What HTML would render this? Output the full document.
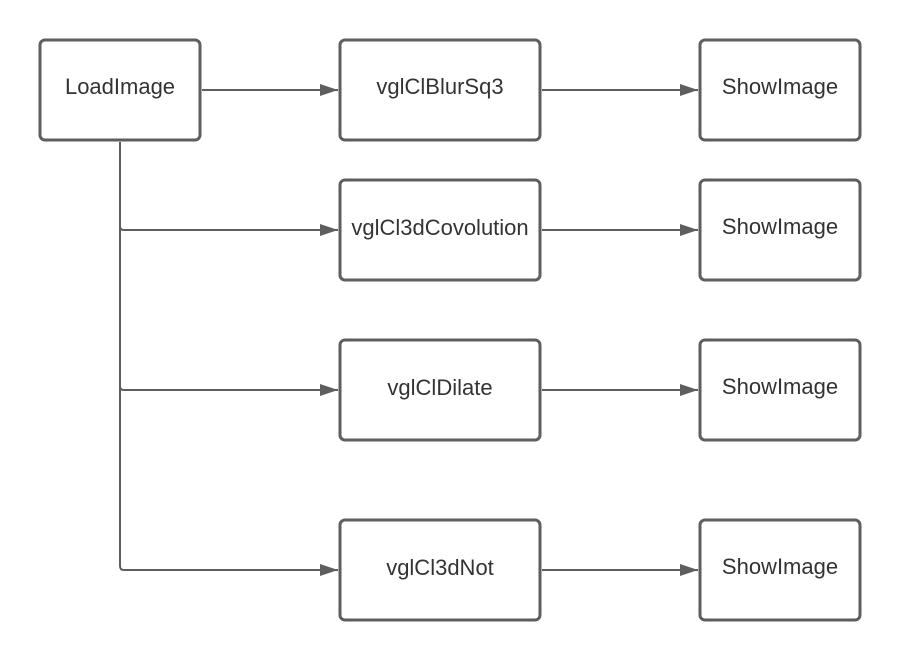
<!DOCTYPE html>
<html><head><style>body{margin:0;background:#fff}</style></head><body>
<svg width="900" height="660" viewBox="0 0 900 660" xmlns="http://www.w3.org/2000/svg" font-family="Liberation Sans, sans-serif" font-size="22" fill="#333">
<defs><marker id="a" markerWidth="18" markerHeight="12" refX="18" refY="6" orient="auto" markerUnits="userSpaceOnUse"><path d="M0,0 L18,6 L0,12 z" fill="#5e5e5e"/></marker></defs>
<g fill="#fff" stroke="#5e5e5e" stroke-width="3">
<rect x="40" y="40" width="160" height="100" rx="5"/>
<rect x="340" y="40" width="200" height="100" rx="5"/>
<rect x="700" y="40" width="160" height="100" rx="5"/>
<rect x="340" y="180" width="200" height="100" rx="5"/>
<rect x="700" y="180" width="160" height="100" rx="5"/>
<rect x="340" y="340" width="200" height="100" rx="5"/>
<rect x="700" y="340" width="160" height="100" rx="5"/>
<rect x="340" y="520" width="200" height="100" rx="5"/>
<rect x="700" y="520" width="160" height="100" rx="5"/>
</g>
<g fill="none" stroke="#5e5e5e" stroke-width="2">
<path d="M202 90 H338" marker-end="url(#a)"/>
<path d="M542 90 H698" marker-end="url(#a)"/>
<path d="M542 230 H698" marker-end="url(#a)"/>
<path d="M542 390 H698" marker-end="url(#a)"/>
<path d="M542 570 H698" marker-end="url(#a)"/>
<path d="M120 142 V566 Q120 570 124 570 H338" marker-end="url(#a)"/>
<path d="M120 226 Q120 230 124 230 H338" marker-end="url(#a)"/>
<path d="M120 386 Q120 390 124 390 H338" marker-end="url(#a)"/>
</g>
<g text-anchor="middle">
<text x="120" y="94">LoadImage</text>
<text x="440" y="94">vglClBlurSq3</text>
<text x="780" y="94">ShowImage</text>
<text x="440" y="235">vglCl3dCovolution</text>
<text x="780" y="234">ShowImage</text>
<text x="440" y="395">vglClDilate</text>
<text x="780" y="394">ShowImage</text>
<text x="440" y="575">vglCl3dNot</text>
<text x="780" y="574">ShowImage</text>
</g>
</svg>
</body></html>
